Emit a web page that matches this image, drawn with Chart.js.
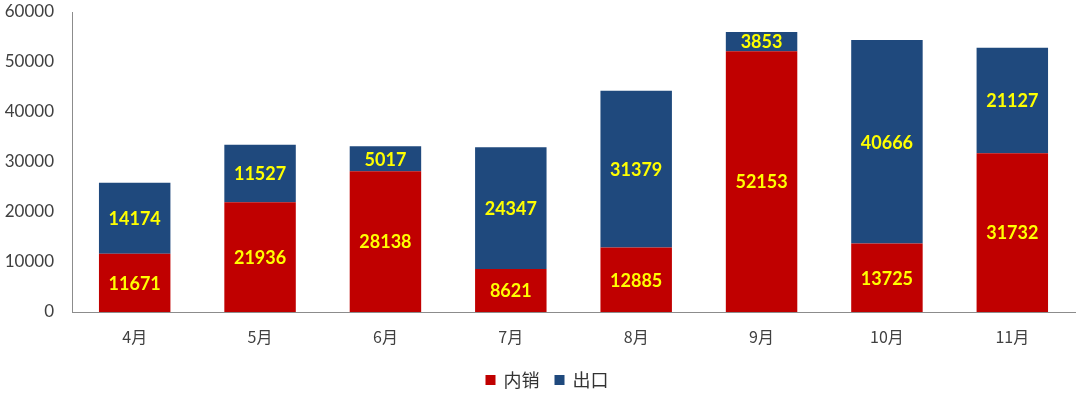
<!DOCTYPE html>
<html>
<head>
<meta charset="utf-8">
<script src="https://cdn.jsdelivr.net/npm/chart.js@4"></script>
<style>
    html, body { margin: 0; padding: 0; background: #fff; }
    #wrap { width: 1080px; height: 395px; }
</style>
</head>
<body>
<div id="wrap"><canvas id="salesCanvas"></canvas></div>
<script>
const months = ["4月", "5月", "6月", "7月", "8月", "9月", "10月", "11月"];
const domestic = [11671, 21936, 28138, 8621, 12885, 52153, 13725, 31732];
const exportSales = [14174, 11527, 5017, 24347, 31379, 3853, 40666, 21127];
const yTicks = [0, 10000, 20000, 30000, 40000, 50000, 60000];

const ctx = document.getElementById("salesCanvas");

// yellow numbers inside each bar segment
const segmentLabels = {
    id: "segmentLabels",
    afterDatasetsDraw(chart) {
        const c = chart.ctx;
        c.save();
        c.font = "bold 18px Lato";
        c.fillStyle = "#FFFF00";
        c.textAlign = "center";
        c.textBaseline = "middle";
        chart.data.datasets.forEach((ds, i) => {
            chart.getDatasetMeta(i).data.forEach((bar, j) => {
                const mid = (bar.y + bar.base) / 2;
                c.fillText(String(ds.data[j]), bar.x, mid + 1);
            });
        });
        c.restore();
    }
};

// legend drawn by hand so the spacing matches the original
const bottomLegend = {
    id: "bottomLegend",
    afterDraw(chart) {
        const c = chart.ctx;
        const box = 10;
        const gapText = 8;
        const gapItem = 15;
        c.save();
        c.font = "18px 'Noto Sans CJK SC'";
        c.textBaseline = "middle";
        const items = chart.data.datasets.map(ds => ({
            text: ds.label,
            color: ds.backgroundColor,
            w: box + gapText + c.measureText(ds.label).width
        }));
        const total = items.reduce((s, it) => s + it.w, 0) + gapItem * (items.length - 1);
        let x = chart.width / 2 + 7 - total / 2;
        const y = 380;
        items.forEach(it => {
            c.fillStyle = it.color;
            c.fillRect(x, y - box / 2, box, box);
            c.fillStyle = "#333";
            c.fillText(it.text, x + box + gapText, y);
            x += it.w + gapItem;
        });
        c.restore();
    }
};

const chart = new Chart(ctx, {
    type: "bar",
    data: {
        labels: months,
        datasets: [
            {
                label: "内销",
                data: domestic,
                backgroundColor: "#C00000",
                barPercentage: 0.57,
                categoryPercentage: 1
            },
            {
                label: "出口",
                data: exportSales,
                backgroundColor: "#1F497D",
                barPercentage: 0.57,
                categoryPercentage: 1
            }
        ]
    },
    options: {
        responsive: true,
        maintainAspectRatio: false,
        animation: false,
        layout: {
            padding: { left: 0, right: 5, top: 0, bottom: 33 }
        },
        plugins: {
            tooltip: { enabled: false },
            legend: { display: false }
        },
        scales: {
            x: {
                stacked: true,
                grid: { display: false, drawTicks: false },
                border: { color: "#8c8c8c", width: 1 },
                ticks: {
                    color: "#404040",
                    padding: 15,
                    font: { family: "'Noto Sans CJK SC'", size: 16 }
                },
                afterFit(scale) { scale.height = 50; }
            },
            y: {
                stacked: true,
                min: 0,
                max: 60000,
                afterBuildTicks(scale) {
                    scale.ticks = yTicks.map(v => ({ value: v }));
                },
                grid: { display: false, drawTicks: false },
                border: { color: "#8c8c8c", width: 1 },
                ticks: {
                    color: "#404040",
                    padding: 18,
                    font: { family: "Lato", size: 17 },
                    callback: (v) => String(v)
                },
                afterFit(scale) {
                    scale.width = 72;
                    scale.paddingTop = 12;
                    scale.paddingBottom = 0;
                }
            }
        }
    },
    plugins: [segmentLabels, bottomLegend]
});
</script>
</body>
</html>
